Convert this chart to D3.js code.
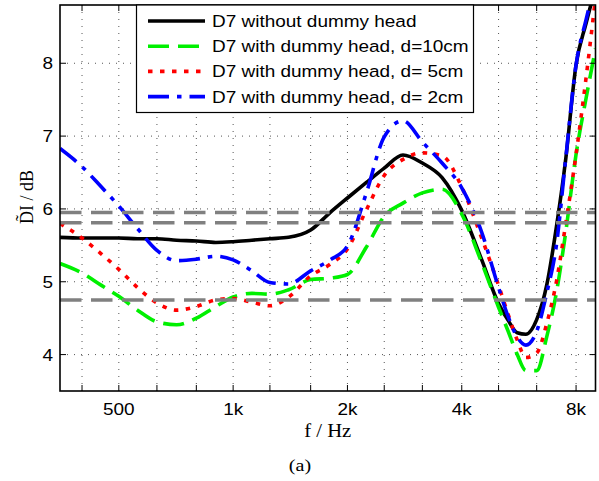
<!DOCTYPE html>
<html>
<head>
<meta charset="utf-8">
<script src="https://cdn.jsdelivr.net/npm/d3@7"></script>
<style>
  html, body { margin: 0; padding: 0; background: #fff; }
  svg { display: block; }
</style>
</head>
<body>
<div id="chart"></div>
<script>
// frequency grid (Hz) shared by all four curves
const FREQS = [350, 400, 450, 500, 560, 630, 710, 800, 900, 1000, 1120, 1250, 1400, 1600, 1800,
  2000, 2240, 2500, 2800, 3150, 3550, 4000, 4500, 5000, 5300, 5600, 5900, 6300, 6700, 7100,
  7500, 8000, 8500, 9000];

const DI_NO_HEAD = [5.61, 5.60, 5.60, 5.60, 5.59, 5.59, 5.57, 5.56, 5.54, 5.55, 5.57, 5.59, 5.61, 5.71, 5.95,
  6.15, 6.36, 6.56, 6.74, 6.63, 6.43, 5.98, 5.32, 4.70, 4.47, 4.30, 4.28, 4.48, 4.96, 5.75,
  6.65, 7.98, 8.55, 9.05];
const DI_D10 = [5.25, 5.12, 4.95, 4.80, 4.61, 4.45, 4.41, 4.50, 4.66, 4.79, 4.84, 4.83, 4.89, 5.03, 5.05,
  5.10, 5.47, 5.90, 6.08, 6.22, 6.27, 5.93, 5.28, 4.65, 4.32, 4.00, 3.78, 3.78, 4.25, 4.85,
  5.65, 6.75, 7.52, 8.20];
const DI_D5 = [5.80, 5.60, 5.38, 5.17, 4.92, 4.71, 4.61, 4.66, 4.75, 4.77, 4.72, 4.67, 4.79, 5.08, 5.24,
  5.45, 5.98, 6.46, 6.68, 6.77, 6.73, 6.30, 5.62, 4.95, 4.55, 4.20, 3.96, 4.02, 4.43, 5.00,
  5.77, 6.75, 7.80, 8.90];
const DI_D2 = [6.83, 6.58, 6.30, 6.04, 5.73, 5.43, 5.29, 5.31, 5.35, 5.30, 5.15, 4.99, 4.97, 5.15, 5.30,
  5.49, 6.21, 6.99, 7.21, 6.92, 6.63, 6.29, 5.70, 4.92, 4.52, 4.24, 4.13, 4.32, 4.85, 5.50,
  6.65, 7.98, 8.60, 9.10];

const SERIES_NAMES = ['D7 without dummy head', 'D7 with dummy head, d=10cm',
  'D7 with dummy head, d= 5cm', 'D7 with dummy head, d= 2cm'];

// grey reference levels (dB)
const REF_LEVELS = [5.95, 5.81, 4.75];

// third-octave ticks, labelled ones, y ticks
const X_TICKS = [400, 500, 630, 800, 1000, 1250, 1600, 2000, 2500, 3150, 4000, 5000, 6300, 8000];
const X_LABELS = { 500: '500', 1000: '1k', 2000: '2k', 4000: '4k', 8000: '8k' };
const Y_TICKS = [4, 5, 6, 7, 8];

const STYLES = [
  { color: '#000000', dash: null },
  { color: '#00f000', dash: '21,9' },
  { color: '#ff0000', dash: '4.5,7.5' },
  { color: '#0000ff', dash: '21,8,4.5,8' },
];

(function () {
  const width = 599, height = 481;
  const pl = 60, pr = 595.5, pt = 5, pb = 391; // plot box
  const SANS = '"Liberation Sans", Arial, Helvetica, sans-serif';
  const SERIF = '"Liberation Serif", "Times New Roman", serif';
  const STRETCH = 1.15; // reference text is a bit wider than normal

  const x = d3.scaleLog().domain([350, 9000]).range([pl, pr]);
  const y = d3.scaleLinear().domain([3.5, 8.8]).range([pb, pt]);

  const svg = d3.select('#chart').append('svg')
    .attr('width', width).attr('height', height);

  svg.append('defs').append('clipPath').attr('id', 'plotclip')
    .append('rect').attr('x', pl).attr('y', pt)
    .attr('width', pr - pl).attr('height', pb - pt);

  // small helper: horizontally stretched text
  function label(sel, tx, ty, txt, opts) {
    return sel.append('text')
      .attr('transform', `translate(${tx},${ty}) scale(${STRETCH},1)`)
      .attr('font-family', opts.font || SANS)
      .attr('font-size', opts.size || 16.5)
      .attr('text-anchor', opts.anchor || 'start')
      .attr('dy', opts.dy || 0)
      .attr('fill', '#000')
      .text(txt);
  }

  // dotted grid
  const grid = svg.append('g').attr('stroke', '#555').attr('stroke-width', 1)
    .attr('stroke-dasharray', '1,6');
  X_TICKS.forEach(f => {
    grid.append('line').attr('x1', x(f)).attr('x2', x(f)).attr('y1', pt).attr('y2', pb);
  });
  Y_TICKS.forEach(v => {
    grid.append('line').attr('x1', pl).attr('x2', pr).attr('y1', y(v)).attr('y2', y(v));
  });

  // curves
  const plot = svg.append('g').attr('clip-path', 'url(#plotclip)');
  const line = d3.line()
    .x((d, i) => x(FREQS[i]))
    .y(d => y(d))
    .curve(d3.curveMonotoneX);

  [DI_NO_HEAD, DI_D10, DI_D5, DI_D2].forEach((vals, i) => {
    const st = STYLES[i];
    plot.append('path')
      .attr('d', line(vals))
      .attr('fill', 'none')
      .attr('stroke', st.color)
      .attr('stroke-width', 3.6)
      .attr('stroke-dasharray', st.dash)
      .attr('stroke-linecap', 'butt')
      .attr('stroke-linejoin', 'round');
  });

  // grey dashed reference levels (drawn after the curves)
  REF_LEVELS.forEach(v => {
    plot.append('line')
      .attr('x1', pl).attr('x2', pr).attr('y1', y(v)).attr('y2', y(v))
      .attr('stroke', '#808080').attr('stroke-width', 3.5)
      .attr('stroke-dasharray', '21.5,9.5');
  });

  // frame and inward ticks
  const axes = svg.append('g').attr('stroke', '#000').attr('stroke-width', 1);
  X_TICKS.forEach(f => {
    axes.append('line').attr('x1', x(f)).attr('x2', x(f)).attr('y1', pb).attr('y2', pb - 6);
    axes.append('line').attr('x1', x(f)).attr('x2', x(f)).attr('y1', pt).attr('y2', pt + 6);
  });
  Y_TICKS.forEach(v => {
    axes.append('line').attr('x1', pl).attr('x2', pl + 6).attr('y1', y(v)).attr('y2', y(v));
    axes.append('line').attr('x1', pr).attr('x2', pr - 6).attr('y1', y(v)).attr('y2', y(v));
  });
  svg.append('rect')
    .attr('x', pl).attr('y', pt).attr('width', pr - pl).attr('height', pb - pt)
    .attr('fill', 'none').attr('stroke', '#000').attr('stroke-width', 1.6);

  // tick labels
  X_TICKS.filter(f => X_LABELS[f]).forEach(f => {
    label(svg, x(f), 415, X_LABELS[f], { anchor: 'middle' });
  });
  Y_TICKS.forEach(v => {
    label(svg, 53, y(v), String(v), { anchor: 'end', dy: '0.36em' });
  });

  // axis titles
  label(svg, (pl + pr) / 2, 437, 'f / Hz', { font: SERIF, size: 18, anchor: 'middle' });
  svg.append('text')
    .attr('transform', 'translate(33,197) rotate(-90)')
    .attr('font-family', SERIF).attr('font-size', 18)
    .attr('text-anchor', 'middle').attr('fill', '#000')
    .text('D\u0303I / dB');
  label(svg, 300, 471, '(a)', { font: SERIF, size: 17.5, anchor: 'middle' });

  // legend
  const lg = svg.append('g');
  lg.append('rect')
    .attr('x', 136.5).attr('y', pt).attr('width', 337).attr('height', 107.5)
    .attr('fill', '#fff').attr('stroke', '#000').attr('stroke-width', 1.2);
  SERIES_NAMES.forEach((name, i) => {
    const ly = 21 + i * 25.2;
    const st = STYLES[i];
    lg.append('line')
      .attr('x1', 148).attr('x2', 205).attr('y1', ly).attr('y2', ly)
      .attr('stroke', st.color).attr('stroke-width', 3.6)
      .attr('stroke-dasharray', st.dash);
    label(lg, 212, ly, name, { dy: '0.36em' });
  });
})();
</script>
</body>
</html>
